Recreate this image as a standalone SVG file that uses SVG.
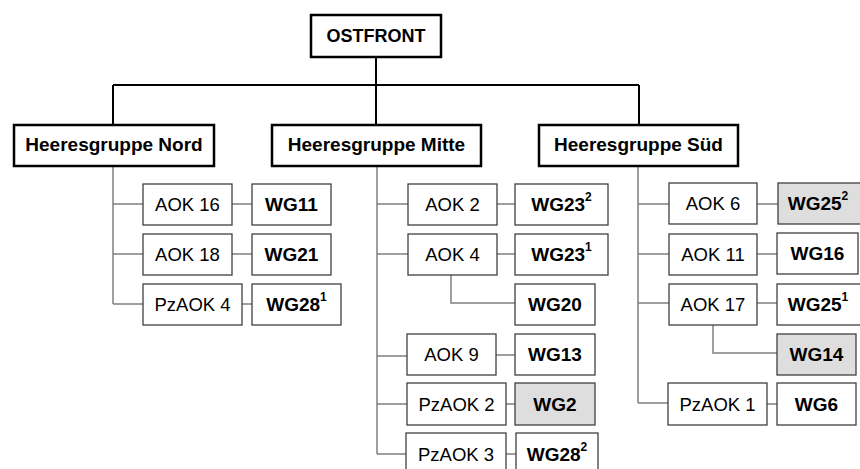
<svg xmlns="http://www.w3.org/2000/svg" width="860" height="469" viewBox="0 0 860 469">
<style>
  text { font-family: "Liberation Sans", Arial, sans-serif; text-anchor: middle; fill: #000; }
  .top { fill: #fff; stroke: #000; stroke-width: 2.5; }
  .box { fill: #fff; stroke: #404040; stroke-width: 1.3; }
  .grey { fill: #dedede; }
  .hq { font-size: 19px; font-weight: bold; }
  .aok { font-size: 18.5px; }
  .wg { font-size: 19px; font-weight: bold; }
  .sup { font-size: 12px; }
  .c1 { fill: none; stroke: #000; stroke-width: 2; }
  .c2 { fill: none; stroke: #808080; stroke-width: 1.5; }
</style>
<rect width="860" height="469" fill="#fff"/>
<g id="connectors">
  <path class="c1" d="M376 57V85M113 85H639M113 85V125M376 85V125M639 85V125"/>
  <path class="c2" d="M113 166V304M113 204H143M113 254H143M113 304H143M232 204H252M232 254H252M242 304H252"/>
  <path class="c2" d="M377 166V454M377 204H408M377 254H408M377 356H407M377 404H407M377 454H406M497 204H515M497 254H515M451 275V303H515M496 355H515M506 404H515M506 454H516"/>
  <path class="c2" d="M638 166V403M638 204H669M638 254H669M638 303H669M638 403H668M757 204H778M757 254H777M757 303H777M713 325V353H777M767 404H777"/>
</g>
<g id="ostfront"><rect class="top" x="311" y="15" width="130" height="42"/><text class="hq" x="376" y="42" style="font-size:18px">OSTFRONT</text></g>
<g id="hg-nord"><rect class="top" x="14" y="125" width="200" height="41"/><text class="hq" x="114" y="151">Heeresgruppe Nord</text></g>
<g id="hg-mitte"><rect class="top" x="272" y="125" width="209" height="41"/><text class="hq" x="376.5" y="151">Heeresgruppe Mitte</text></g>
<g id="hg-sued"><rect class="top" x="539" y="125" width="199" height="41"/><text class="hq" x="638.5" y="151">Heeresgruppe Süd</text></g>

<g id="aok16"><rect class="box" x="143" y="184" width="89" height="41"/><text class="aok" x="187.5" y="211">AOK 16</text></g>
<g id="aok18"><rect class="box" x="143" y="234" width="89" height="41"/><text class="aok" x="187.5" y="261">AOK 18</text></g>
<g id="pzaok4"><rect class="box" x="143" y="284" width="99" height="41"/><text class="aok" x="192.5" y="311">PzAOK 4</text></g>
<g id="wg11"><rect class="box" x="252" y="184" width="79" height="41"/><text class="wg" x="291.5" y="211">WG11</text></g>
<g id="wg21"><rect class="box" x="252" y="234" width="79" height="41"/><text class="wg" x="291.5" y="261">WG21</text></g>
<g id="wg28-1"><rect class="box" x="252" y="284" width="89" height="41"/><text class="wg" x="296.5" y="311">WG28<tspan class="sup" dy="-10">1</tspan></text></g>

<g id="aok2"><rect class="box" x="408" y="184" width="89" height="41"/><text class="aok" x="452.5" y="211">AOK 2</text></g>
<g id="aok4"><rect class="box" x="408" y="234" width="89" height="41"/><text class="aok" x="452.5" y="261">AOK 4</text></g>
<g id="aok9"><rect class="box" x="407" y="334" width="89" height="41"/><text class="aok" x="451.5" y="361">AOK 9</text></g>
<g id="pzaok2"><rect class="box" x="407" y="383" width="99" height="42"/><text class="aok" x="456.5" y="411">PzAOK 2</text></g>
<g id="pzaok3"><rect class="box" x="406" y="433" width="100" height="50"/><text class="aok" x="456" y="461">PzAOK 3</text></g>
<g id="wg23-2"><rect class="box" x="515" y="184" width="93" height="41"/><text class="wg" x="561.5" y="211">WG23<tspan class="sup" dy="-10">2</tspan></text></g>
<g id="wg23-1"><rect class="box" x="515" y="234" width="93" height="41"/><text class="wg" x="561.5" y="261">WG23<tspan class="sup" dy="-10">1</tspan></text></g>
<g id="wg20"><rect class="box" x="515" y="284" width="80" height="41"/><text class="wg" x="555" y="311">WG20</text></g>
<g id="wg13"><rect class="box" x="515" y="334" width="80" height="41"/><text class="wg" x="555" y="361">WG13</text></g>
<g id="wg2"><rect class="box grey" x="515" y="383" width="80" height="42"/><text class="wg" x="555" y="411">WG2</text></g>
<g id="wg28-2"><rect class="box" x="516" y="433" width="82" height="50"/><text class="wg" x="557" y="461">WG28<tspan class="sup" dy="-10">2</tspan></text></g>

<g id="aok6"><rect class="box" x="669" y="183" width="88" height="41"/><text class="aok" x="713" y="210">AOK 6</text></g>
<g id="aok11"><rect class="box" x="669" y="234" width="88" height="41"/><text class="aok" x="713" y="261">AOK 11</text></g>
<g id="aok17"><rect class="box" x="669" y="284" width="88" height="41"/><text class="aok" x="713" y="311">AOK 17</text></g>
<g id="pzaok1"><rect class="box" x="668" y="383" width="99" height="42"/><text class="aok" x="717.5" y="411">PzAOK 1</text></g>
<g id="wg25-2"><rect class="box grey" x="778" y="183" width="90" height="41"/><text class="wg" x="818" y="210">WG25<tspan class="sup" dy="-10">2</tspan></text></g>
<g id="wg16"><rect class="box" x="777" y="233" width="81" height="41"/><text class="wg" x="817.5" y="260">WG16</text></g>
<g id="wg25-1"><rect class="box" x="777" y="284" width="90" height="41"/><text class="wg" x="818" y="311">WG25<tspan class="sup" dy="-10">1</tspan></text></g>
<g id="wg14"><rect class="box grey" x="777" y="334" width="79" height="41"/><text class="wg" x="816.5" y="361">WG14</text></g>
<g id="wg6"><rect class="box" x="777" y="383" width="79" height="42"/><text class="wg" x="816.5" y="411">WG6</text></g>
</svg>
